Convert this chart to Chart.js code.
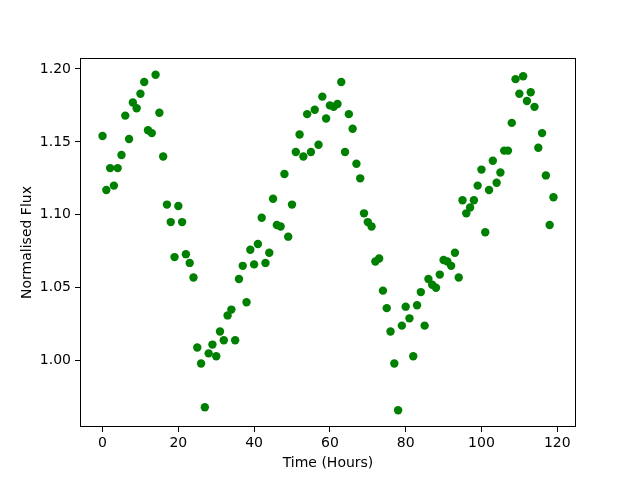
<!DOCTYPE html>
<html>
<head>
<meta charset="utf-8">
<script src="https://cdn.jsdelivr.net/npm/chart.js@4/dist/chart.umd.min.js"></script>
<style>
  html, body { margin: 0; padding: 0; background: #fff; }
  #fluxChart { display: block; }
</style>
</head>
<body>
<canvas id="fluxChart" width="640" height="480"></canvas>
<script>
const timeHours = [
    0, 1, 2, 3, 4, 5, 6, 7, 8, 9, 10, 11, 12, 13, 14, 15, 16, 17, 18, 19,
    20, 21, 22, 23, 24, 25, 26, 27, 28, 29, 30, 31, 32, 33, 34, 35, 36, 37, 38, 39,
    40, 41, 42, 43, 44, 45, 46, 47, 48, 49, 50, 51, 52, 53, 54, 55, 56, 57, 58, 59,
    60, 61, 62, 63, 64, 65, 66, 67, 68, 69, 70, 71, 72, 73, 74, 75, 76, 77, 78, 79,
    80, 81, 82, 83, 84, 85, 86, 87, 88, 89, 90, 91, 92, 93, 94, 95, 96, 97, 98, 99,
    100, 101, 102, 103, 104, 105, 106, 107, 108, 109, 110, 111, 112, 113, 114, 115, 116, 117, 118, 119
];

const normalisedFlux = [
    1.154, 1.117, 1.132, 1.120, 1.132, 1.141, 1.168, 1.152, 1.177, 1.173,
    1.183, 1.191, 1.158, 1.156, 1.196, 1.170, 1.140, 1.107, 1.095, 1.071,
    1.106, 1.095, 1.073, 1.067, 1.057, 1.009, 0.998, 0.968, 1.005, 1.011,
    1.003, 1.020, 1.014, 1.031, 1.035, 1.014, 1.056, 1.065, 1.040, 1.076,
    1.066, 1.080, 1.098, 1.067, 1.074, 1.111, 1.093, 1.092, 1.128, 1.085,
    1.107, 1.143, 1.155, 1.140, 1.169, 1.143, 1.172, 1.148, 1.181, 1.166,
    1.175, 1.174, 1.176, 1.191, 1.143, 1.169, 1.159, 1.135, 1.125, 1.101,
    1.095, 1.092, 1.068, 1.070, 1.048, 1.036, 1.020, 0.998, 0.966, 1.024,
    1.037, 1.029, 1.003, 1.038, 1.047, 1.024, 1.056, 1.052, 1.050, 1.059,
    1.069, 1.068, 1.065, 1.074, 1.057, 1.110, 1.101, 1.105, 1.110, 1.120,
    1.131, 1.088, 1.117, 1.137, 1.122, 1.129, 1.144, 1.144, 1.163, 1.193,
    1.183, 1.195, 1.178, 1.184, 1.174, 1.146, 1.156, 1.127, 1.093, 1.112
];

const xTicks = [0, 20, 40, 60, 80, 100, 120];
const yTicks = [1.00, 1.05, 1.10, 1.15, 1.20];

const font = { family: 'DejaVu Sans', size: 14 };

// draw the box round the plot, matplotlib style
const frame = {
    id: 'frame',
    afterDraw(chart) {
        const a = chart.chartArea;
        const ctx = chart.ctx;
        ctx.save();
        ctx.strokeStyle = '#000';
        ctx.lineWidth = 1;
        ctx.strokeRect(Math.round(a.left) + 0.5, Math.round(a.top) + 0.5,
            Math.round(a.right - a.left) - 1, Math.round(a.bottom - a.top) - 1);
        ctx.restore();
    }
};

const points = timeHours.map((t, i) => ({ x: t, y: normalisedFlux[i] }));

const ctx = document.getElementById('fluxChart').getContext('2d');
new Chart(ctx, {
    type: 'scatter',
    data: {
        datasets: [{
            data: points,
            backgroundColor: '#008000',
            borderWidth: 0,
            pointRadius: 4.2,
            pointHoverRadius: 4.2
        }]
    },
    options: {
        responsive: false,
        animation: false,
        events: [],
        layout: { padding: { top: 58, right: 64, left: 0, bottom: 0 } },
        plugins: {
            legend: { display: false },
            tooltip: { enabled: false }
        },
        scales: {
            x: {
                type: 'linear',
                min: -5.95,
                max: 124.95,
                afterBuildTicks: s => { s.ticks = xTicks.map(v => ({ value: v })); },
                afterFit: s => { s.height = 53; },
                grid: { drawOnChartArea: false, drawTicks: true, tickLength: 5, color: '#000' },
                border: { display: false },
                ticks: { color: '#000', font: font, padding: 3, maxRotation: 0, autoSkip: false },
                title: { display: true, text: 'Time (Hours)', color: '#000', font: font, padding: { top: 0, bottom: 8.6 } }
            },
            y: {
                type: 'linear',
                min: 0.9545,
                max: 1.2075,
                afterBuildTicks: s => { s.ticks = yTicks.map(v => ({ value: v })); },
                afterFit: s => { s.width = 80; },
                grid: { drawOnChartArea: false, drawTicks: true, tickLength: 5, color: '#000' },
                border: { display: false },
                ticks: {
                    color: '#000', font: font, padding: 4, autoSkip: false,
                    callback: v => v.toFixed(2)
                },
                title: { display: true, text: 'Normalised Flux', color: '#000', font: font, padding: { top: 18.6, bottom: 0 } }
            }
        }
    },
    plugins: [frame]
});
</script>
</body>
</html>
